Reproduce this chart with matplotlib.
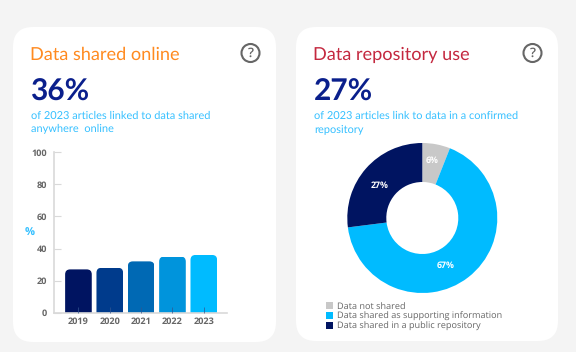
import matplotlib
matplotlib.use('Agg')
import matplotlib.pyplot as plt
from matplotlib.patches import FancyBboxPatch, Circle
from matplotlib.transforms import IdentityTransform

plt.rcParams['text.hinting'] = 'no_hinting'

W, H = 576, 352

years = ['2019', '2020', '2021', '2022', '2023']
shared_online = [27, 28, 32, 35, 36]
bar_colors = ['#001461', '#003b8c', '#0069b4', '#0094dc', '#00bbff']
y_ticks = [0, 20, 40, 60, 80, 100]

donut_labels = ['Data not shared', 'Data shared as supporting information', 'Data shared in a public repository']
donut_values = [6, 67, 27]
donut_colors = ['#c8c8c8', '#00bbff', '#001461']

GREY = '#666666'
SKY = '#35c0ff'
NAVY = '#0a1f8c'
HEAD = 'Lato'
BODY = 'Open Sans'


def px_axes(left, top, right, bottom):
    return fig.add_axes([left / W, 1 - bottom / H, (right - left) / W, (bottom - top) / H])


fig = plt.figure(figsize=(W / 100, H / 100), dpi=100, facecolor='#f4f4f4')

# page layer, in pixels
bg = fig.add_axes([0, 0, 1, 1])
bg.set_xlim(0, W)
bg.set_ylim(H, 0)
bg.axis('off')

for (x0, x1, y0, y1) in [(13, 276, 27, 342), (296, 558, 27, 341)]:
    bg.add_patch(FancyBboxPatch((x0 + 20, y0 + 20), x1 - x0 - 40, y1 - y0 - 40,
                                boxstyle='round,pad=20,rounding_size=20', fc='white', ec='none'))

for cx in [250.5, 532.5]:
    bg.add_patch(Circle((cx, 53), 9, fc='white', ec=GREY, lw=1.5))
    bg.text(cx, 53.5, '?', color=GREY, fontsize=9.5, ha='center', va='center', family=BODY, weight=600)

bg.text(30, 60, 'Data shared online', color='#ff8a1f', fontsize=13.1, family=HEAD, va='baseline')
bg.text(313, 60, 'Data repository use', color='#c4283f', fontsize=13.1, family=HEAD, va='baseline')
bg.text(30, 101, '36%', color=NAVY, fontsize=21.5, family=HEAD, weight='bold', va='baseline')
bg.text(314, 101, '27%', color=NAVY, fontsize=21.5, family=HEAD, weight='bold', va='baseline')
bg.text(31, 119, 'of 2023 articles linked to data shared', color=SKY, fontsize=7.9, family=HEAD, va='baseline')
bg.text(31, 132, 'anywhere  online', color=SKY, fontsize=7.9, family=HEAD, va='baseline')
bg.text(314, 119, 'of 2023 articles link to data in a confirmed', color=SKY, fontsize=7.9, family=HEAD, va='baseline')
bg.text(314, 132, 'repository', color=SKY, fontsize=7.9, family=HEAD, va='baseline')
bg.text(30, 233, '%', color=SKY, fontsize=8, family=BODY, weight='bold', ha='center', va='center')

# bar chart
ax = px_axes(54, 152.3, 227, 312.7)
ax.patch.set_alpha(0)
positions = list(range(len(years)))
bars = ax.bar(positions, shared_online, width=0.85, color=bar_colors, zorder=2)
ax.set_xlim(-0.78, 4.74)
ax.set_ylim(0, 100)
ax.set_xticks(positions, years)
ax.set_yticks(y_ticks)
for side in ['top', 'right']:
    ax.spines[side].set_visible(False)
for side in ['left', 'bottom']:
    ax.spines[side].set_color('#d9d9d9')
    ax.spines[side].set_linewidth(1.2)
ax.tick_params(axis='y', direction='in', length=5, width=0.8, color='#d9d9d9', pad=5,
               labelsize=6.6, labelcolor=GREY)
ax.tick_params(axis='x', direction='in', length=4, width=0.5, color='#33558f', pad=3,
               labelsize=6.6, labelcolor=GREY)
ax.set_axisbelow(False)
for lab in ax.get_xticklabels() + ax.get_yticklabels():
    lab.set_family(BODY)
    lab.set_weight('bold')

# round the top corners of each bar
fig.canvas.draw()
for bar in bars:
    ext = bar.get_window_extent()
    clip = FancyBboxPatch((ext.x0, ext.y0 - 10), ext.width, ext.height + 10,
                          boxstyle='round,pad=0,rounding_size=5', transform=IdentityTransform())
    bar.set_clip_path(clip)

# donut
dx = px_axes(347.3, 143, 497.3, 293)
wedges, _, pct = dx.pie(donut_values, colors=donut_colors, startangle=90, counterclock=False,
                        radius=1, wedgeprops={'width': 0.52}, autopct='%d%%',
                        textprops={'color': 'white', 'fontsize': 6.3, 'weight': 'bold', 'family': BODY})
dx.set_xlim(-1, 1)
dx.set_ylim(-1, 1)
for t, pos in zip(pct, [(0.13, 0.76), (0.31, -0.64), (-0.57, 0.43)]):
    t.set_position(pos)
    t.set_ha('center')

fig.legend(wedges, donut_labels, loc='upper left', bbox_to_anchor=(326.3 / W, 1 - 302 / H),
           frameon=False, ncol=1, labelcolor=GREY, handlelength=0.7, handleheight=0.7,
           handletextpad=0.5, labelspacing=0.1, borderpad=0, borderaxespad=0,
           prop={'family': BODY, 'size': 6.6})

fig.savefig('out.png', dpi=100, facecolor=fig.get_facecolor())
